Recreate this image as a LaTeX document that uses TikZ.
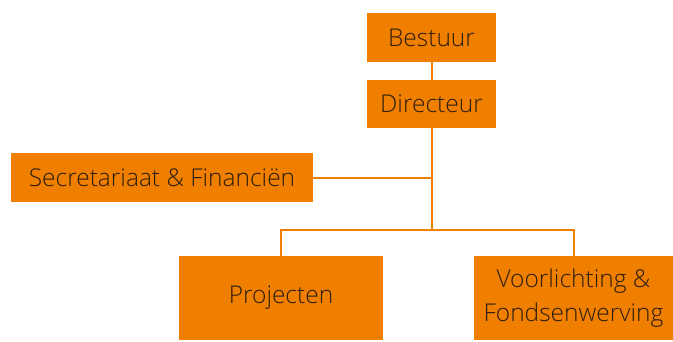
\documentclass[tikz,border=0pt]{standalone}
\usepackage{fontspec}
\setmainfont{Open Sans}[UprightFont=* Light]
\usepackage{xcolor}
\usetikzlibrary{positioning, calc}
\definecolor{orgorange}{RGB}{240,127,0}
\definecolor{orgtext}{RGB}{45,30,15}

\begin{document}
\begin{tikzpicture}[x=1pt, y=-1pt, thick]

		% Define styles
		\tikzstyle{unit} = [rectangle, fill=orgorange, text=orgtext, text centered, inner sep=0pt, font=\fontsize{24.5}{34}\selectfont]
		\tikzstyle{link} = [draw=orgorange, line width=2pt]

		% Frame
		\useasboundingbox (0,0) rectangle (673,341);

		% Nodes
		\node[unit, minimum width=129pt, minimum height=49pt] (bestuur) at (431.5,37.5) {Bestuur};
		\node[unit, minimum width=129pt, minimum height=48pt] (directeur) at (431.5,104) {Directeur};
		\node[unit, minimum width=302pt, minimum height=49pt] (secretariaat) at (162,177.5) {Secretariaat \& Financiën};
		\node[unit, minimum width=204pt, minimum height=84pt] (projecten) at (281,298) {Projecten};
		\node[unit, minimum width=199pt, minimum height=84pt, align=center] (voorlichting) at (573.5,298) {Voorlichting \&\\Fondsenwerving};

		% Junctions
		\coordinate (split) at ($(directeur.south)+(0,102)$);

		% Connectors
		\draw[link] (bestuur.south) -- (directeur.north);
		\draw[link] (directeur.south) -- (split);
		\draw[link] (secretariaat.east) -- (secretariaat.east -| directeur.south);
		\draw[link] (projecten.north) -- (projecten.north |- split) -- (voorlichting.north |- split) -- (voorlichting.north);

\end{tikzpicture}
\end{document}
